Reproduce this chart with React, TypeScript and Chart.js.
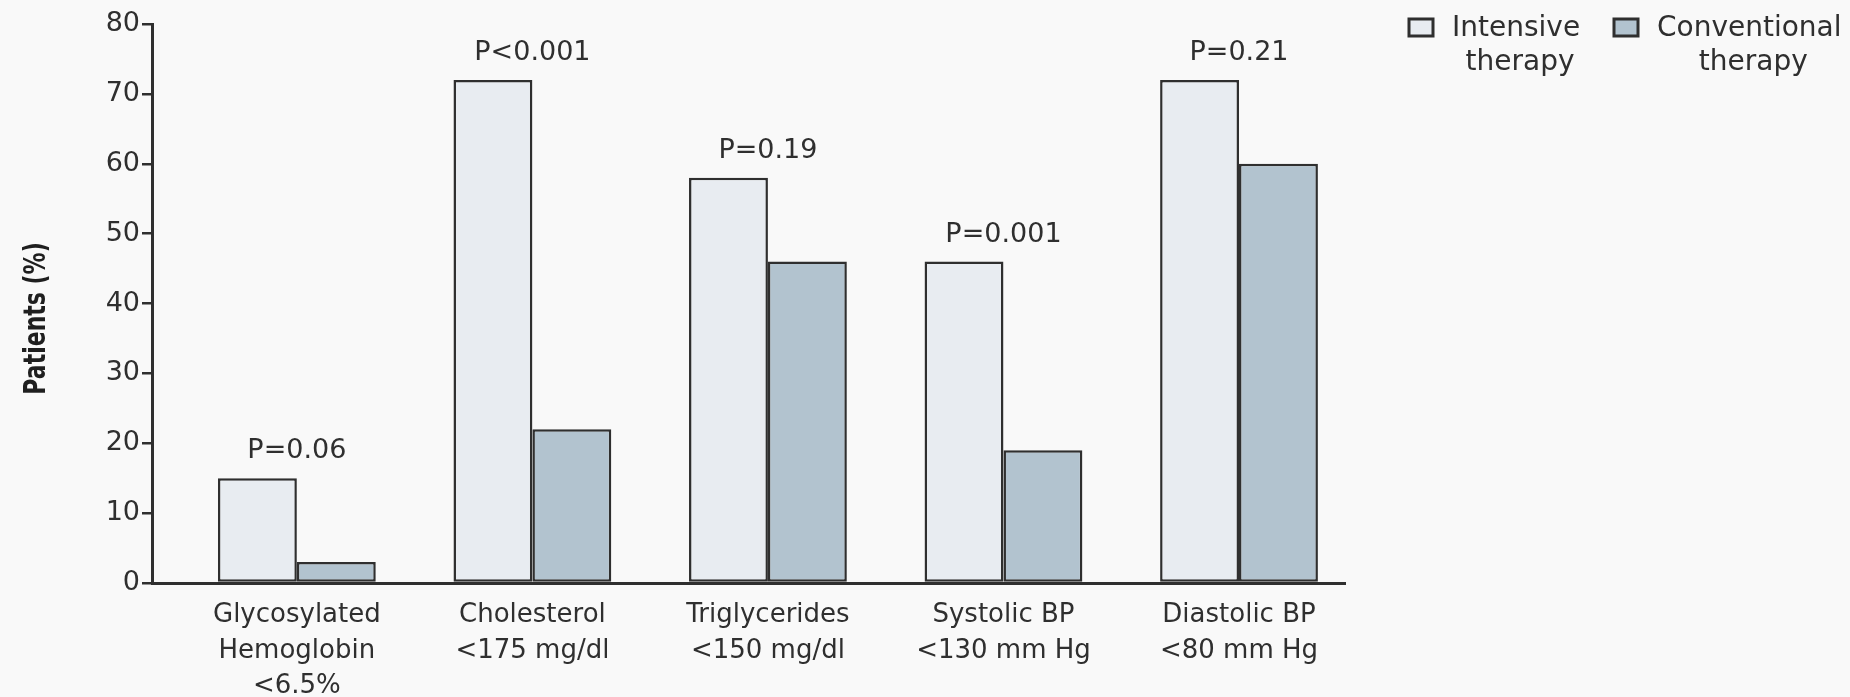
import React, { useEffect, useRef } from "react";
import { Chart, registerables } from "chart.js";

Chart.register(...registerables);

// Goals reached at the end of the study, by treatment arm
const categories: string[][] = [
  ["Glycosylated", "Hemoglobin", "<6.5%"],
  ["Cholesterol", "<175 mg/dl"],
  ["Triglycerides", "<150 mg/dl"],
  ["Systolic BP", "<130 mm Hg"],
  ["Diastolic BP", "<80 mm Hg"],
];
const intensive = [15, 72, 58, 46, 72];
const conventional = [3, 22, 46, 19, 60];
const pValues = ["P=0.06", "P<0.001", "P=0.19", "P=0.001", "P=0.21"];
const yTicks = [0, 10, 20, 30, 40, 50, 60, 70, 80];
const yTitle = "Patients (%)";
const seriesNames: string[][] = [
  ["Intensive", "therapy"],
  ["Conventional", "therapy"],
];

const FONT = '"DejaVu Sans", "Open Sans", sans-serif';
const INK = "#2f2f2f";
const FILL_INTENSIVE = "#e8ecf1";
const FILL_CONVENTIONAL = "#b2c3cf";
const BG = "#f9f9f9";

const backgroundPlugin = {
  id: "bg",
  beforeDraw(chart: any) {
    const { ctx, width, height } = chart;
    ctx.save();
    ctx.fillStyle = BG;
    ctx.fillRect(0, 0, width, height);
    ctx.restore();
  },
};

// Rotated y-axis title, a little below the middle of the axis, with wide strokes
const yTitlePlugin = {
  id: "yTitle",
  afterDraw(chart: any) {
    const { ctx, chartArea } = chart;
    const cy = (chartArea.top + chartArea.bottom) / 2 + 15;
    ctx.save();
    ctx.translate(37, cy);
    ctx.rotate(-Math.PI / 2);
    ctx.scale(1, 1.35);
    ctx.font = `bold 22px ${FONT}`;
    ctx.fillStyle = "#1f1f1f";
    ctx.textAlign = "center";
    ctx.textBaseline = "middle";
    ctx.fillText(yTitle, 0, 0);
    ctx.restore();
  },
};

// P value printed above the taller bar of each group
const pValuePlugin = {
  id: "pvalues",
  afterDatasetsDraw(chart: any) {
    const { ctx, scales } = chart;
    ctx.save();
    ctx.font = `27px ${FONT}`;
    ctx.fillStyle = INK;
    ctx.textAlign = "center";
    ctx.textBaseline = "middle";
    pValues.forEach((p, i) => {
      const top = Math.max(intensive[i], conventional[i]);
      const x = scales.x.getPixelForValue(i);
      const y = scales.y.getPixelForValue(top) - 27;
      ctx.fillText(p, x, y);
    });
    ctx.restore();
  },
};

// Two-line legend in the upper right corner
const legendPlugin = {
  id: "twoLineLegend",
  afterDraw(chart: any) {
    const { ctx } = chart;
    const fills = [FILL_INTENSIVE, FILL_CONVENTIONAL];
    const starts = [1409, 1614];
    ctx.save();
    ctx.font = `28px ${FONT}`;
    seriesNames.forEach((lines, k) => {
      const bx = starts[k];
      ctx.fillStyle = fills[k];
      ctx.fillRect(bx, 19, 24, 17);
      ctx.strokeStyle = INK;
      ctx.lineWidth = 3;
      ctx.strokeRect(bx, 19, 24, 17);
      const tx = bx + 43;
      const w = ctx.measureText(lines[0]).width;
      ctx.fillStyle = INK;
      ctx.textBaseline = "alphabetic";
      ctx.textAlign = "left";
      ctx.fillText(lines[0], tx, 36);
      ctx.textAlign = "center";
      ctx.fillText(lines[1], tx + w / 2 + 4, 70);
    });
    ctx.restore();
  },
};

export default function App() {
  const canvasRef = useRef<HTMLCanvasElement | null>(null);

  useEffect(() => {
    const canvas = canvasRef.current;
    if (!canvas) return;
    const barStyle = {
      borderColor: INK,
      borderWidth: 2.5,
      borderSkipped: false,
      categoryPercentage: 0.67,
      barPercentage: 1.0,
    };
    const chart = new Chart(canvas, {
      type: "bar",
      data: {
        datasets: [
          {
            label: seriesNames[0].join(" "),
            data: intensive.map((v, i) => ({ x: i, y: v })),
            backgroundColor: FILL_INTENSIVE,
            ...barStyle,
          },
          {
            label: seriesNames[1].join(" "),
            data: conventional.map((v, i) => ({ x: i, y: v })),
            backgroundColor: FILL_CONVENTIONAL,
            ...barStyle,
          },
        ],
      },
      options: {
        responsive: false,
        animation: false,
        layout: { padding: { top: 24, right: 505, bottom: 0, left: 0 } },
        plugins: {
          legend: { display: false },
          tooltip: { enabled: false },
        },
        scales: {
          x: {
            type: "linear",
            min: -0.615,
            max: 4.45,
            offset: false,
            afterBuildTicks: (s: any) => {
              s.ticks = categories.map((_, i) => ({ value: i }));
            },
            afterFit: (s: any) => {
              s.height = 114;
            },
            grid: { display: false, drawTicks: false },
            border: { display: true, color: INK, width: 3 },
            ticks: {
              autoSkip: false,
              maxRotation: 0,
              padding: 14,
              color: INK,
              font: { family: FONT, size: 26, lineHeight: 1.38 },
              callback: (v: any) => categories[v as number] ?? "",
            },
          },
          y: {
            min: 0,
            max: 80,
            afterBuildTicks: (s: any) => {
              s.ticks = yTicks.map((v) => ({ value: v }));
            },
            afterFit: (s: any) => {
              s.width = 152;
            },
            grid: {
              display: true,
              drawOnChartArea: false,
              drawTicks: true,
              tickLength: 10,
              color: INK,
              lineWidth: 2.5,
            },
            border: { display: true, color: INK, width: 3 },
            ticks: {
              padding: 2,
              color: INK,
              font: { family: FONT, size: 27 },
            },
            title: { display: false },
          },
        },
      },
      plugins: [backgroundPlugin, pValuePlugin, legendPlugin, yTitlePlugin],
    });
    return () => chart.destroy();
  }, []);

  return (
    <div style={{ position: "fixed", left: 0, top: 0, width: 1850, height: 697, background: BG }}>
      <canvas ref={canvasRef} width={1850} height={697} style={{ display: "block" }} />
    </div>
  );
}
